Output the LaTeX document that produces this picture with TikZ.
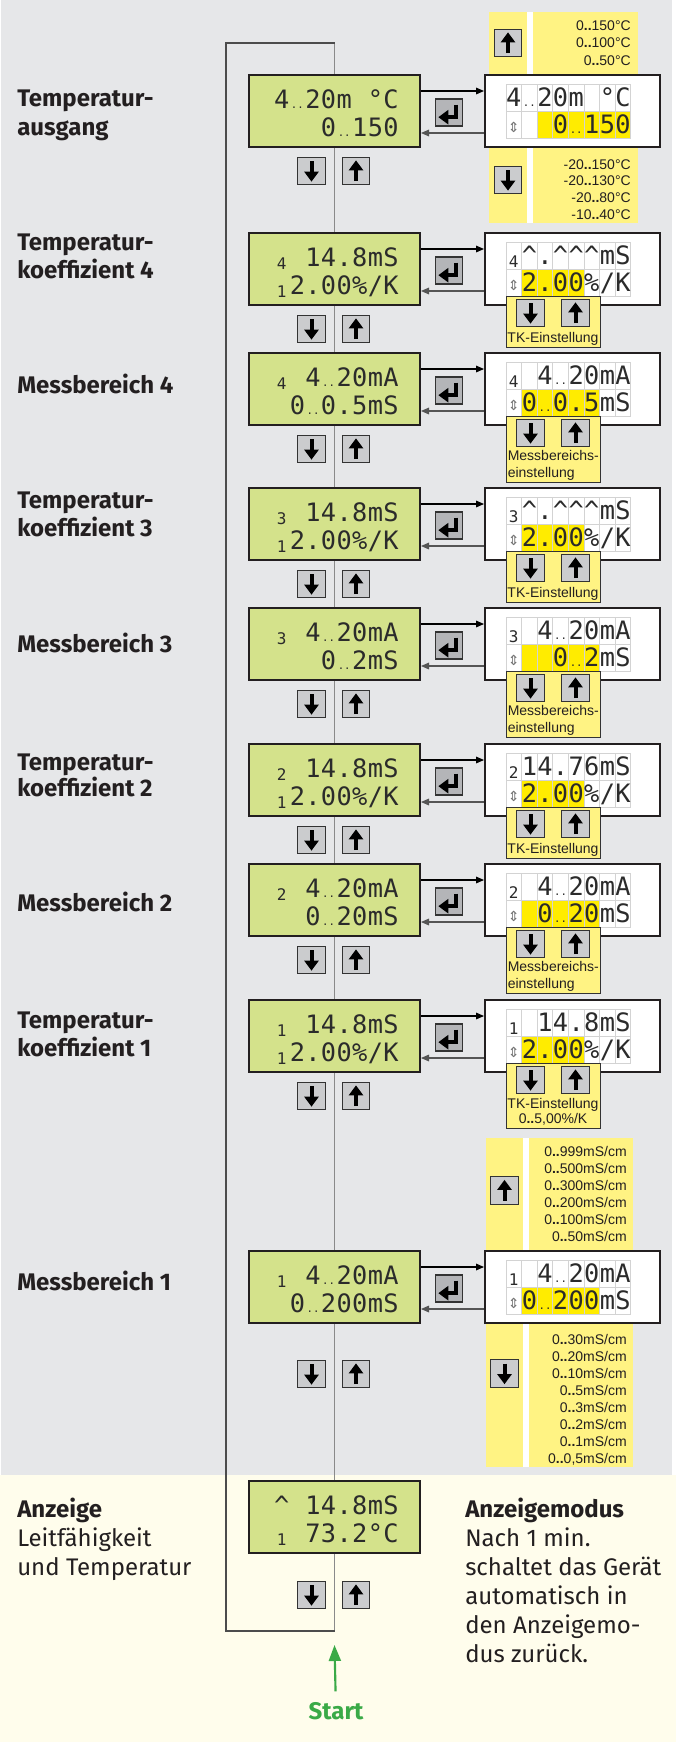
\documentclass[tikz,border=0pt]{standalone}
\usepackage{fontspec}
\setmainfont{Fira Sans}
\newfontfamily\lcdfont{DejaVu Sans Mono}
\newfontfamily\panelfont{Liberation Sans}
\newfontfamily\symfont{DejaVu Sans}
\usepackage{tikz}
\usetikzlibrary{arrows.meta,calc}

\definecolor{bggray}{HTML}{E6E7E9}
\definecolor{cream}{HTML}{FFFDEC}
\definecolor{lcdgreen}{HTML}{D4E28B}
\definecolor{lcdframe}{HTML}{231F20}
\definecolor{lcdtext}{HTML}{2B2B2B}
\definecolor{cellgray}{HTML}{D3D3D3}
\definecolor{stripyellow}{HTML}{FFF383}
\definecolor{hiyellow}{HTML}{FFEC00}
\definecolor{btngray}{HTML}{CBCCCE}
\definecolor{entergray}{HTML}{B4B5B8}
\definecolor{btnframe}{HTML}{333333}
\definecolor{textdark}{HTML}{231F20}
\definecolor{arrgray}{HTML}{555555}
\definecolor{loopgray}{HTML}{8A8A8A}
\definecolor{startgreen}{HTML}{3AAA47}

% LCD glyph helpers
\newcommand{\dd}{{\fontsize{8}{8}\selectfont..}}
\newcommand{\sm}[1]{\raisebox{-2.5pt}{\fontsize{12}{12}\selectfont #1}}
\newcommand{\ud}{\raisebox{1pt}{\symfont\fontsize{10.5}{10.5}\selectfont\color{black!55}⇕}}

% one row of 8 characters
\newcommand{\lcdrow}[4]{%
  \foreach \ch [count=\k] in {#4}
    \node[lcd] (#1-\k) at ({#2+(\k-0.5)*15.6},#3) {\ch};}
\newcommand{\cellrow}[4]{%
  \foreach \ch [count=\k] in {#4}
    \node[lcd, cell] (#1-\k) at ({#2+(\k-0.5)*15.6},#3) {\ch};}

% buttons
\newcommand{\btnup}[3]{%
  \node[btn] (#1) at (#2,#3) {};
  \draw[btnarr] ([yshift=-7.5pt]#1.center) -- ([yshift=8pt]#1.center);}
\newcommand{\btndown}[3]{%
  \node[btn] (#1) at (#2,#3) {};
  \draw[btnarr] ([yshift=7.5pt]#1.center) -- ([yshift=-8pt]#1.center);}
\newcommand{\btnenter}[3]{%
  \node[btn, fill=entergray, minimum height=20.25pt] (#1) at (#2,#3) {};
  \draw[btnarr, line join=miter] ([xshift=5.5pt,yshift=6pt]#1.center)
    -- ([xshift=5.5pt,yshift=-3.5pt]#1.center) -- ([xshift=-8pt,yshift=-3.5pt]#1.center);}

% displays
\newcommand{\greenbox}[4]{%
  \node[lcdbox] (#1) at (334.5,#2+36) {};
  \lcdrow{#1a}{274}{#2+24}{#3}
  \lcdrow{#1b}{274}{#2+52}{#4}
  \btndown{#1d}{311.5}{#2+96}
  \btnup{#1u}{356}{#2+96}}
\newcommand{\whitebox}[6]{%
  \node[whbox] (#1) at (572.5,#2+36) {};
  \fill[hiyellow] ({506+(#5-1)*15.6},#2+36) rectangle ({506+#6*15.6},#2+63);
  \cellrow{#1a}{506}{#2+22.5}{#3}
  \cellrow{#1b}{506}{#2+49.5}{#4}}
\newcommand{\links}[3]{%
  \draw[arr] ($(#1.north east)+(0,17)$) -- ($(#2.north west)+(0,17)$);
  \draw[arr, draw=arrgray] ($(#2.north west)+(0,59)$) -- ($(#1.north east)+(0,59)$);
  \btnenter{#1e}{449}{#3+37.5}}

% setting panels under the white display
\newcommand{\tkpanel}[2]{%
  \node[panel, minimum height=38.25pt] (#1) at (506,#2+63) {};
  \btndown{#1d}{530.5}{#2+80}
  \btnup{#1u}{575.5}{#2+80}
  \node[ptext, anchor=base] (#1t) at (553,#2+109) {TK-Einstellung};}
\newcommand{\mbpanel}[2]{%
  \node[panel, minimum height=49.5pt] (#1) at (506,#2+63) {};
  \btndown{#1d}{530.5}{#2+80}
  \btnup{#1u}{575.5}{#2+80}
  \node[ptext, anchor=base west] (#1t) at (507.5,#2+107) {Messbereichs-};
  \node[ptext, anchor=base west] (#1s) at (507.5,#2+124) {einstellung};}

\begin{document}
\begin{tikzpicture}[x=0.75pt, y=-0.75pt,
    lcdbox/.style={draw=lcdframe, line width=1.5pt, fill=lcdgreen,
                   minimum width=128.25pt, minimum height=54pt, inner sep=0pt},
    whbox/.style={draw=lcdframe, line width=1.5pt, fill=white,
                  minimum width=131.25pt, minimum height=54pt, inner sep=0pt},
    lcd/.style={font=\lcdfont\fontsize{19}{19}\selectfont, text=lcdtext, inner sep=0pt,
                text height=13.5pt, text depth=0pt, minimum width=11.7pt, minimum height=20.25pt},
    cell/.style={draw=cellgray, line width=0.7pt},
    btn/.style={draw=btnframe, line width=0.9pt, fill=btngray,
                minimum width=20.6pt, minimum height=20.6pt, inner sep=0pt},
    btnarr/.style={line width=3pt, -{Triangle[length=7.5pt,width=10.5pt]}},
    arr/.style={line width=0.8pt, -{Triangle[length=6pt,width=5pt]}},
    panel/.style={draw=btnframe, line width=0.6pt, fill=stripyellow, anchor=north west,
                  minimum width=70.5pt, inner sep=0pt},
    ptext/.style={font=\panelfont\fontsize{10.5}{12}\selectfont, text=textdark, inner sep=0pt},
    lbl/.style={font=\fontsize{18}{21}\selectfont\bfseries, text=textdark, anchor=base west, inner sep=0pt},
    lblr/.style={lbl, font=\fontsize{18}{21}\selectfont},
    startarr/.style={line width=1.6pt, draw=startgreen, -{Triangle[length=12pt,width=9pt]}}
]
\useasboundingbox (0,0) rectangle (676,1742);
\fill[bggray] (1,0) rectangle (672,1475);
\fill[cream] (0,1475) rectangle (676,1742);

% yellow strips with range lists
\fill[stripyellow] (489,12) rectangle (638,223);
\fill[white] (526.5,12) rectangle (532.5,223);
\fill[stripyellow] (486,1138) rectangle (633,1467);
\fill[white] (523,1138) rectangle (529,1467);

% loop
\coordinate (ltop) at (334.5,43);
\coordinate (lcorner) at (226,43);
\coordinate (lbot) at (226,1631);
\coordinate (mbot) at (334.5,1631);
\draw[loopgray, line width=1.2pt] (ltop) -- (mbot);
\draw[black!70, line width=0.9pt] (ltop) -- (lcorner) -- (lbot) -- (mbot);

% Temperaturausgang
\node[lbl] (l1a) at (17,106) {Temperatur-};
\node[lbl] (l1b) at (17,135) {ausgang};
\greenbox{g1}{75}{4,\dd,2,0,m,{},°,C}{{},{},{},0,\dd,1,5,0}
\whitebox{w1}{75}{4,\dd,2,0,m,{},°,C}{\ud,{},{},0,\dd,1,5,0}{3}{8}
\links{g1}{w1}{75}
\btnup{s1u}{508}{43}
\btndown{s1d}{508}{180}
\foreach \t [count=\i] in {0\textbf{..}150°C,0\textbf{..}100°C,0\textbf{..}50°C}
  \node[ptext, anchor=base east] (su\i) at (631,{30+(\i-1)*17.5}) {\t};
\foreach \t [count=\i] in {-20\textbf{..}150°C,-20\textbf{..}130°C,-20\textbf{..}80°C,-10\textbf{..}40°C}
  \node[ptext, anchor=base east] (sd\i) at (631,{169+(\i-1)*16.7}) {\t};

% Temperaturkoeffizient 4
\node[lbl] (l2a) at (17,250) {Temperatur-};
\node[lbl] (l2b) at (17,278) {koeffizient 4};
\greenbox{g2}{233}{\sm{4},{},1,4,.,8,m,S}{\sm{1},2,.,0,0,\%,/,K}
\whitebox{w2}{233}{\sm{4},\textasciicircum,.,\textasciicircum,\textasciicircum,\textasciicircum,m,S}{\ud,2,.,0,0,\%,/,K}{2}{5}
\links{g2}{w2}{233}
\tkpanel{p2}{233}

% Messbereich 4
\node[lbl] (l3a) at (17,393) {Messbereich 4};
\greenbox{g3}{353}{\sm{4},{},4,\dd,2,0,m,A}{{},0,\dd,0,.,5,m,S}
\whitebox{w3}{353}{\sm{4},{},4,\dd,2,0,m,A}{\ud,0,\dd,0,.,5,m,S}{2}{6}
\links{g3}{w3}{353}
\mbpanel{p3}{353}

% Temperaturkoeffizient 3
\node[lbl] (l4a) at (17,508) {Temperatur-};
\node[lbl] (l4b) at (17,536) {koeffizient 3};
\greenbox{g4}{488}{\sm{3},{},1,4,.,8,m,S}{\sm{1},2,.,0,0,\%,/,K}
\whitebox{w4}{488}{\sm{3},\textasciicircum,.,\textasciicircum,\textasciicircum,\textasciicircum,m,S}{\ud,2,.,0,0,\%,/,K}{2}{5}
\links{g4}{w4}{488}
\tkpanel{p4}{488}

% Messbereich 3
\node[lbl] (l5a) at (17,652) {Messbereich 3};
\greenbox{g5}{608}{\sm{3},{},4,\dd,2,0,m,A}{{},{},{},0,\dd,2,m,S}
\whitebox{w5}{608}{\sm{3},{},4,\dd,2,0,m,A}{\ud,{},{},0,\dd,2,m,S}{2}{6}
\links{g5}{w5}{608}
\mbpanel{p5}{608}

% Temperaturkoeffizient 2
\node[lbl] (l6a) at (17,770) {Temperatur-};
\node[lbl] (l6b) at (17,796) {koeffizient 2};
\greenbox{g6}{744}{\sm{2},{},1,4,.,8,m,S}{\sm{1},2,.,0,0,\%,/,K}
\whitebox{w6}{744}{\sm{2},1,4,.,7,6,m,S}{\ud,2,.,0,0,\%,/,K}{2}{5}
\links{g6}{w6}{744}
\tkpanel{p6}{744}

% Messbereich 2
\node[lbl] (l7a) at (17,911) {Messbereich 2};
\greenbox{g7}{864}{\sm{2},{},4,\dd,2,0,m,A}{{},{},0,\dd,2,0,m,S}
\whitebox{w7}{864}{\sm{2},{},4,\dd,2,0,m,A}{\ud,{},0,\dd,2,0,m,S}{2}{6}
\links{g7}{w7}{864}
\mbpanel{p7}{864}

% Temperaturkoeffizient 1
\node[lbl] (l8a) at (17,1028) {Temperatur-};
\node[lbl] (l8b) at (17,1056) {koeffizient 1};
\greenbox{g8}{1000}{\sm{1},{},1,4,.,8,m,S}{\sm{1},2,.,0,0,\%,/,K}
\whitebox{w8}{1000}{\sm{1},{},1,4,.,8,m,S}{\ud,2,.,0,0,\%,/,K}{2}{5}
\links{g8}{w8}{1000}
\node[panel, minimum height=48.75pt] (p8) at (506,1063) {};
\btndown{p8d}{530.5}{1080}
\btnup{p8u}{575.5}{1080}
\node[ptext, anchor=base] (p8t) at (553,1108) {TK-Einstellung};
\node[ptext, anchor=base] (p8s) at (553,1123) {0\textbf{..}5,00\%/K};

% Messbereich 1
\node[lbl] (l9a) at (17,1290) {Messbereich 1};
\node[lcdbox] (g9) at (334.5,1287) {};
\lcdrow{g9a}{274}{1275}{\sm{1},{},4,\dd,2,0,m,A}
\lcdrow{g9b}{274}{1303}{{},0,\dd,2,0,0,m,S}
\btndown{g9d}{311.5}{1374}
\btnup{g9u}{356}{1374}
\whitebox{w9}{1251}{\sm{1},{},4,\dd,2,0,m,A}{\ud,0,\dd,2,0,0,m,S}{2}{6}
\links{g9}{w9}{1251}
\btnup{s9u}{504.5}{1190.5}
\btndown{s9d}{504.5}{1373.5}
\foreach \t [count=\i] in {0\textbf{..}999mS/cm,0\textbf{..}500mS/cm,0\textbf{..}300mS/cm,
    0\textbf{..}200mS/cm,0\textbf{..}100mS/cm,0\textbf{..}50mS/cm}
  \node[ptext, anchor=base east] (mu\i) at (627,{1156.7+(\i-1)*16.9}) {\t};
\foreach \t [count=\i] in {0\textbf{..}30mS/cm,0\textbf{..}20mS/cm,0\textbf{..}10mS/cm,0\textbf{..}5mS/cm,
    0\textbf{..}3mS/cm,0\textbf{..}2mS/cm,0\textbf{..}1mS/cm,{0\textbf{..}0,5mS/cm}}
  \node[ptext, anchor=base east] (md\i) at (627,{1344.3+(\i-1)*17}) {\t};

% Anzeige
\node[lbl] (l10a) at (17,1517) {Anzeige};
\node[lblr] (l10b) at (17,1546) {Leitfähigkeit};
\node[lblr] (l10c) at (17,1575) {und Temperatur};
\node[lcdbox] (g10) at (334.5,1517) {};
\lcdrow{g10a}{274}{1505}{\textasciicircum,{},1,4,.,8,m,S}
\lcdrow{g10b}{274}{1533}{\sm{1},{},7,3,.,2,°,C}
\btndown{g10d}{311.5}{1595}
\btnup{g10u}{356}{1595}
\node[lbl] (m1) at (465,1517) {Anzeigemodus};
\node[lblr] (m2) at (465,1546) {Nach 1 min.};
\node[lblr] (m3) at (465,1575) {schaltet das Gerät};
\node[lblr] (m4) at (465,1604) {automatisch in};
\node[lblr] (m5) at (465,1633) {den Anzeigemo-};
\node[lblr] (m6) at (465,1662) {dus zurück.};

% Start
\node[lbl, anchor=center, text=startgreen] (start) at (336,1711) {Start};
\coordinate (startend) at (334.5,1645);
\draw[startarr, shorten <=8pt] (start) -- (startend);
\end{tikzpicture}
\end{document}
